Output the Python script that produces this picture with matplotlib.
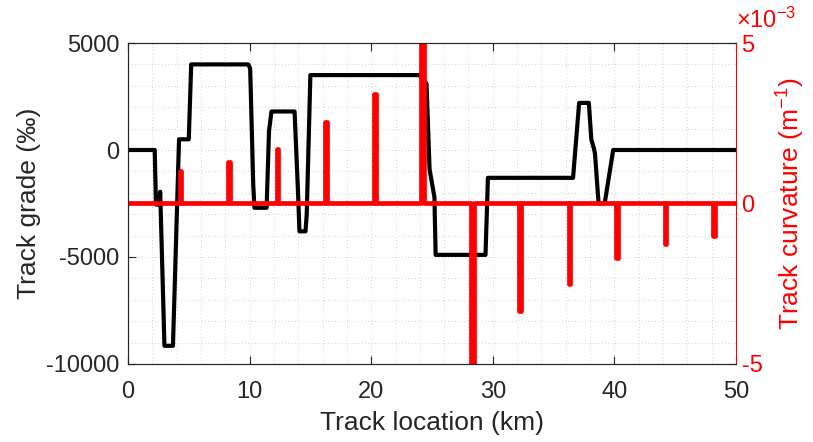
import matplotlib
matplotlib.use("Agg")
import matplotlib.pyplot as plt
from matplotlib.ticker import MultipleLocator, FixedLocator, FuncFormatter

plt.rcParams["font.family"] = ["Liberation Sans", "DejaVu Sans"]
plt.rcParams["mathtext.fontset"] = "custom"
plt.rcParams["mathtext.rm"] = "Liberation Sans"
plt.rcParams["mathtext.it"] = "Liberation Sans"
plt.rcParams["axes.unicode_minus"] = False

# track grade profile (km, per mille)
grade_km = [0, 2.2, 2.3, 2.5, 2.65, 3.0, 3.7, 4.2, 5.0, 5.2, 9.9, 10.05, 10.3,
            10.4, 11.4, 11.6, 11.8, 13.7, 14.0, 14.1, 14.6, 14.7, 15.0, 23.95,
            24.55, 24.8, 25.2, 25.3, 29.4, 29.6, 36.6, 36.7, 37.1, 37.9, 38.1,
            38.3, 38.4, 38.7, 39.2, 39.9, 50]
grade = [0, 0, -2550, -2550, -1950, -9150, -9150, 500, 500, 4000, 4000, 3800,
         -1600, -2700, -2700, 900, 1800, 1800, -2200, -3800, -3800, -3000,
         3500, 3500, 3100, -900, -2200, -4900, -4900, -1300, -1300, -600,
         2200, 2200, 500, 100, -150, -2500, -2500, 0, 0]

# curve locations (km) and curvature (1/m)
curve_km = [4.3, 8.3, 12.3, 16.3, 20.3, 24.2, 28.3, 32.25, 36.3, 40.2, 44.2, 48.2]
curvature = [1.0e-3, 1.3e-3, 1.7e-3, 2.55e-3, 3.4e-3, 12e-3,
             -12e-3, -3.35e-3, -2.5e-3, -1.7e-3, -1.25e-3, -1.0e-3]
curve_len = [0.12, 0.12, 0.12, 0.12, 0.12, 0.25, 0.25, 0.12, 0.12, 0.12, 0.12, 0.12]
track_end = 50

# build curvature profile as rectangular pulses along the track
curv_x, curv_y = [0], [0]
for c, h, w in zip(curve_km, curvature, curve_len):
    curv_x += [c - w / 2, c - w / 2, c + w / 2, c + w / 2]
    curv_y += [0, h, h, 0]
curv_x.append(track_end)
curv_y.append(0)

fig = plt.figure(figsize=(8.13, 4.42), dpi=100)
ax = fig.add_axes([0.1574, 0.1765, 0.7479, 0.7262])
ax2 = ax.twinx()

ax.plot(grade_km, grade, color="black", linewidth=3.0)
ax2.plot(curv_x, curv_y, color="red", linewidth=3.4)

ax.set_xlim(0, 50)
ax.set_ylim(-10000, 5000)
ax2.set_ylim(-5e-3, 5e-3)

txt = "#262626"
ax.xaxis.set_major_locator(MultipleLocator(10))
ax.xaxis.set_minor_locator(MultipleLocator(2))
ax.yaxis.set_major_locator(MultipleLocator(5000))
ax.yaxis.set_minor_locator(MultipleLocator(1000))
ax.grid(True, which="both", linestyle=(0, (1, 3)), linewidth=0.6, color="#c0c0c0")
ax.tick_params(which="major", direction="in", length=6, width=0.8,
               labelsize=17, colors=txt, top=True)
ax.tick_params(axis="x", pad=12)
ax.tick_params(axis="y", pad=6)
ax.tick_params(which="minor", length=0)

ax2.yaxis.set_major_locator(FixedLocator([-5e-3, 0, 5e-3]))
ax2.yaxis.set_major_formatter(FuncFormatter(lambda v, p: f"{v * 1e3:g}"))
ax2.tick_params(direction="in", length=6, width=0.8, labelsize=17,
                colors="red", pad=4)

for s in ["left", "top", "bottom"]:
    ax.spines[s].set_color(txt)
    ax2.spines[s].set_color(txt)
ax2.spines["right"].set_color("red")
ax.spines["right"].set_visible(False)

ax.set_xlabel("Track location (km)", fontsize=19, color=txt, labelpad=6)
ax.set_ylabel("Track grade (‰)", fontsize=19, color=txt, labelpad=4)
ax2.set_ylabel("Track curvature (m$^{-1}$)", fontsize=19, color="red", labelpad=9)
ax2.text(1.0, 1.03, r"$\times10^{-3}$", transform=ax2.transAxes, fontsize=17,
         color="red", ha="left", va="bottom")

fig.savefig("out.png", dpi=100)
